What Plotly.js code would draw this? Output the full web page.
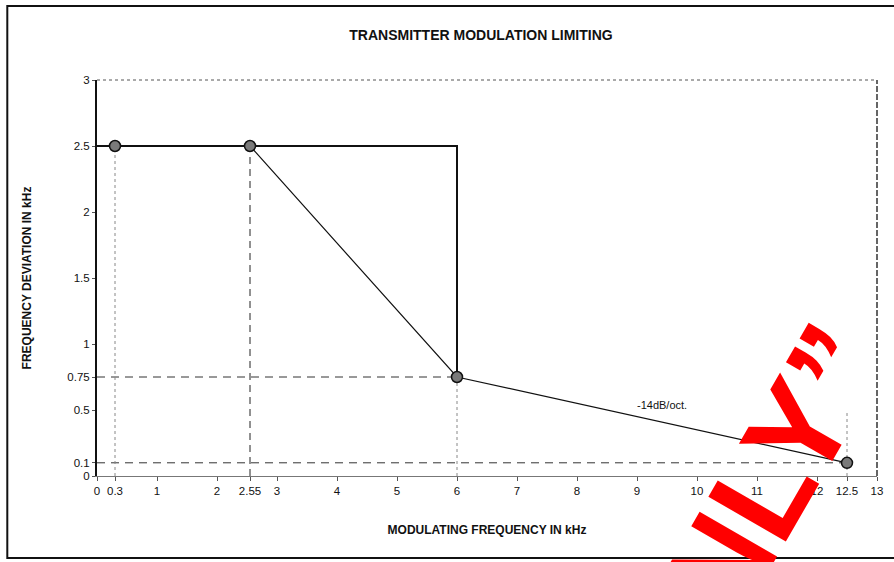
<!DOCTYPE html>
<html>
<head>
<meta charset="utf-8">
<script src="https://cdn.plot.ly/plotly-3.0.1.min.js"></script>
<style>html,body{margin:0;padding:0;background:#fff;}#chart{width:894px;height:562px;}</style>
</head>
<body>
<div id="chart"></div>
<script>
// Data
const pointFreq = [0.3, 2.55, 6, 12.5];        // kHz
const pointDev = [2.5, 2.5, 0.75, 0.1];        // kHz
const limitFreq = [0, 6, 6];
const limitDev = [2.5, 2.5, 0.75];
const xTickVals = [0, 0.3, 1, 2, 2.55, 3, 4, 5, 6, 7, 8, 9, 10, 11, 12, 12.5, 13];
const xTickText = ['0', '0.3', '1', '2', '2.55', '3', '4', '5', '6', '7', '8', '9', '10', '11', '12', '12.5', '13'];
const yTickVals = [0, 0.1, 0.5, 0.75, 1, 1.5, 2, 2.5, 3];
const yTickText = ['0', '0.1', '0.5', '0.75', '1', '1.5', '2', '2.5', '3'];
const slopeLabel = '-14dB/oct.';
const slopeLabelPos = [9.42, 0.54];
const watermark = 'ONLY\u201D';

const FONT = 'Liberation Sans, Arial, sans-serif';

const traces = [];
// limit envelope (thick)
traces.push({x: limitFreq, y: limitDev, mode: 'lines', line: {color: '#111', width: 2}, hoverinfo: 'skip', showlegend: false});
// horizontal reference lines
traces.push({x: [0, pointFreq[2]], y: [pointDev[2], pointDev[2]], mode: 'lines', line: {color: '#333', width: 1, dash: '8px,6px'}, showlegend: false});
traces.push({x: [0, pointFreq[3]], y: [pointDev[3], pointDev[3]], mode: 'lines', line: {color: '#333', width: 1, dash: '8px,6px'}, showlegend: false});
// vertical reference lines
traces.push({x: [pointFreq[0], pointFreq[0]], y: [0, pointDev[0]], mode: 'lines', line: {color: '#888', width: 1, dash: 'dot'}, showlegend: false});
traces.push({x: [pointFreq[1], pointFreq[1]], y: [0, pointDev[1]], mode: 'lines', line: {color: '#222', width: 1, dash: '7px,5px'}, showlegend: false});
traces.push({x: [pointFreq[2], pointFreq[2]], y: [0, pointDev[2]], mode: 'lines', line: {color: '#888', width: 1, dash: 'dot'}, showlegend: false});
traces.push({x: [pointFreq[3], pointFreq[3]], y: [0, 0.5], mode: 'lines', line: {color: '#888', width: 1, dash: 'dot'}, showlegend: false});
// main response curve with markers
traces.push({x: pointFreq, y: pointDev, mode: 'lines+markers',
  line: {color: '#111', width: 1.2},
  marker: {size: 11, color: '#7a7a7a', line: {color: '#111', width: 1.5}},
  showlegend: false});

const layout = {
  width: 894, height: 562,
  margin: {l: 97, r: 17, t: 80, b: 86},
  paper_bgcolor: '#fff', plot_bgcolor: '#fff',
  font: {family: FONT, color: '#111', size: 11},
  title: {text: '<b>TRANSMITTER MODULATION LIMITING</b>', font: {family: FONT, size: 14, color: '#111'}, x: 0.538, xanchor: 'center', y: 0.938, yanchor: 'middle'},
  xaxis: {range: [0, 13], tickvals: xTickVals, ticktext: xTickText, showgrid: false, zeroline: false,
    showline: true, linecolor: '#777', linewidth: 1, ticks: 'outside', ticklen: 4, tickcolor: '#555',
    tickfont: {family: FONT, size: 11.5, color: '#111'},
    title: {text: '<b>MODULATING FREQUENCY IN kHz</b>', font: {family: FONT, size: 12, color: '#111'}, standoff: 29}},
  yaxis: {range: [0, 3], tickvals: yTickVals, ticktext: yTickText, showgrid: false, zeroline: false,
    showline: true, linecolor: '#111', linewidth: 2, ticks: 'outside', ticklen: 3, tickcolor: '#555',
    tickfont: {family: FONT, size: 11.5, color: '#111'},
    title: {text: '<b>FREQUENCY DEVIATION IN kHz</b>', font: {family: FONT, size: 12, color: '#111'}, standoff: 33}},
  shapes: [
    // dotted top border and dashed right border of plot area
    {type: 'line', xref: 'paper', yref: 'paper', x0: 0, x1: 1, y0: 1, y1: 1, line: {color: '#555', width: 1, dash: 'dot'}},
    {type: 'line', xref: 'paper', yref: 'paper', x0: 1, x1: 1, y0: 0, y1: 1, line: {color: '#333', width: 1.5, dash: '6px,2px'}},
    // page frame
    {type: 'rect', xref: 'paper', yref: 'paper', x0: -0.115, x1: 1.05, y0: -0.207, y1: 1.187, line: {color: '#111', width: 2}}
  ],
  annotations: [
    {x: slopeLabelPos[0], y: slopeLabelPos[1], xref: 'x', yref: 'y', text: slopeLabel, showarrow: false, font: {family: FONT, size: 11, color: '#111'}},
    {x: 0.835, y: -0.1, xref: 'paper', yref: 'paper', xanchor: 'center', yanchor: 'middle', text: '<b>' + watermark + '</b>', showarrow: false, textangle: -60,
      font: {family: 'Liberation Sans Narrow, Arial Narrow, Liberation Sans, sans-serif', size: 130, color: '#ff0000'}}
  ]
};

Plotly.newPlot('chart', traces, layout, {displayModeBar: false, staticPlot: true});
</script>
</body>
</html>
